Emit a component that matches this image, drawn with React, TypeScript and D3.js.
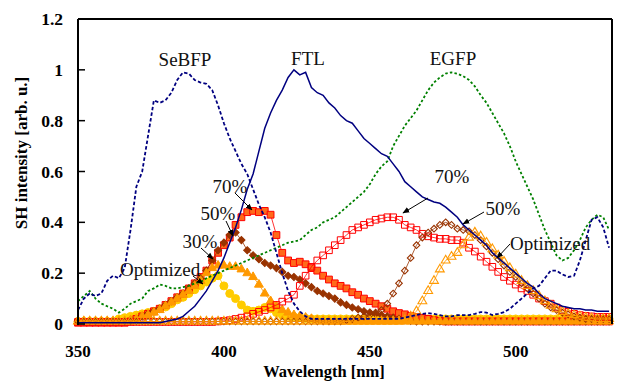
import React from "react";
import * as d3 from "d3";

// Wavelength grid (nm), 2 nm steps
const wavelengths: number[] = d3.range(350, 533, 2);

// Fluorescent-protein excitation spectra (lines)
const sebfp: number[] = [
  0.055, 0.1, 0.12, 0.11, 0.12, 0.17, 0.19, 0.18, 0.22, 0.37,
  0.54, 0.6, 0.74, 0.88, 0.87, 0.88, 0.91, 0.96, 0.99, 0.985,
  0.96, 0.95, 0.945, 0.92, 0.86, 0.79, 0.73, 0.68, 0.63, 0.59,
  0.53, 0.47, 0.42, 0.36, 0.28, 0.2, 0.13, 0.08, 0.05, 0.03,
  0.02, 0.02, 0.02, 0.02, 0.02, 0.02, 0.02, 0.02, 0.02, 0.02,
  0.02, 0.02, 0.02, 0.02, 0.02, 0.02, 0.025, 0.03, 0.035, 0.04,
  0.043, 0.04, 0.035, 0.03, 0.03, 0.035, 0.035, 0.035, 0.04, 0.047,
  0.045, 0.035, 0.04, 0.047, 0.06, 0.08, 0.1, 0.12, 0.14, 0.15,
  0.18, 0.21, 0.21, 0.195, 0.185, 0.19, 0.25, 0.33, 0.41, 0.42,
  0.38, 0.3,
];
const ftl: number[] = [
  0.005, 0.005, 0.005, 0.005, 0.005, 0.005, 0.005, 0.005, 0.005, 0.005,
  0.005, 0.005, 0.005, 0.005, 0.005, 0.01, 0.015, 0.02, 0.03, 0.05,
  0.07, 0.1, 0.13, 0.17, 0.21, 0.26, 0.32, 0.38, 0.45, 0.53,
  0.59, 0.68, 0.77, 0.83, 0.88, 0.92, 0.97, 1.0, 0.98, 0.99,
  0.93, 0.91, 0.9, 0.87, 0.85, 0.82, 0.8, 0.79, 0.76, 0.73,
  0.71, 0.69, 0.67, 0.66, 0.63, 0.6, 0.56, 0.54, 0.52, 0.5,
  0.49, 0.48, 0.475, 0.46, 0.44, 0.42, 0.39, 0.37, 0.35, 0.33,
  0.31, 0.28, 0.26, 0.24, 0.22, 0.2, 0.18, 0.16, 0.145, 0.12,
  0.1, 0.09, 0.08, 0.07, 0.065, 0.06, 0.06, 0.055, 0.055, 0.05,
  0.05, 0.05,
];
const egfp: number[] = [
  0.09, 0.11, 0.13, 0.1, 0.08, 0.07, 0.06, 0.045, 0.06, 0.08,
  0.09, 0.1, 0.13, 0.14, 0.155, 0.15, 0.14, 0.14, 0.145, 0.15,
  0.16, 0.165, 0.18, 0.19, 0.2, 0.21, 0.22, 0.23, 0.24, 0.25,
  0.26, 0.27, 0.28, 0.29, 0.3, 0.31, 0.32, 0.325, 0.33, 0.35,
  0.37, 0.38, 0.4, 0.41, 0.42, 0.44, 0.46, 0.48, 0.5, 0.52,
  0.55, 0.59, 0.62, 0.64, 0.7, 0.74, 0.78, 0.81, 0.84, 0.88,
  0.92, 0.95, 0.97, 0.985, 0.99, 0.985, 0.975, 0.96, 0.935, 0.9,
  0.87, 0.83, 0.79, 0.75, 0.7, 0.64, 0.59, 0.54, 0.49, 0.43,
  0.37, 0.32, 0.27, 0.25, 0.26, 0.29, 0.33, 0.38, 0.41, 0.43,
  0.42, 0.37,
];

// SH spectra, short-wavelength group
const sh70Blue: number[] = [
  0.005, 0.005, 0.005, 0.005, 0.005, 0.005, 0.005, 0.005, 0.005, 0.01,
  0.02, 0.03, 0.04, 0.05, 0.06, 0.075, 0.09, 0.105, 0.12, 0.14,
  0.16, 0.185, 0.21, 0.25, 0.28, 0.31, 0.34, 0.39, 0.42, 0.44,
  0.445, 0.44, 0.445, 0.43, 0.35, 0.28, 0.25, 0.24, 0.245, 0.235,
  0.22, 0.21, 0.19, 0.175, 0.16, 0.15, 0.14, 0.125, 0.115, 0.1,
  0.09, 0.08, 0.07, 0.06, 0.05, 0.043, 0.038, 0.032, 0.028, 0.024,
  0.02, 0.015, 0.012, 0.01, 0.01, 0.01, 0.01, 0.01, 0.01, 0.01,
  0.01, 0.01, 0.01, 0.01, 0.01, 0.01, 0.01, 0.01, 0.01, 0.01,
  0.01, 0.01, 0.01, 0.01, 0.01, 0.01, 0.01, 0.01, 0.01, 0.01,
  0.01, 0.01,
];
const sh50Blue: number[] = [
  0.01, 0.01, 0.01, 0.01, 0.01, 0.01, 0.01, 0.01, 0.01, 0.015,
  0.02, 0.03, 0.04, 0.05, 0.06, 0.075, 0.09, 0.105, 0.12, 0.14,
  0.16, 0.18, 0.21, 0.25, 0.29, 0.32, 0.35, 0.36, 0.33, 0.29,
  0.27, 0.255, 0.24, 0.23, 0.22, 0.205, 0.19, 0.185, 0.175, 0.16,
  0.145, 0.13, 0.12, 0.11, 0.1, 0.085, 0.075, 0.065, 0.058, 0.05,
  0.045, 0.04, 0.035, 0.03, 0.025, 0.02, 0.015, 0.012, 0.01, 0.01,
  0.01, 0.01, 0.01, 0.01, 0.01, 0.01, 0.01, 0.01, 0.01, 0.01,
  0.01, 0.01, 0.01, 0.01, 0.01, 0.01, 0.01, 0.01, 0.01, 0.01,
  0.01, 0.01, 0.01, 0.01, 0.01, 0.01, 0.01, 0.01, 0.01, 0.01,
  0.01, 0.01,
];
const sh30Blue: number[] = [
  0.01, 0.01, 0.01, 0.01, 0.01, 0.01, 0.01, 0.01, 0.01, 0.015,
  0.02, 0.03, 0.035, 0.045, 0.055, 0.07, 0.085, 0.1, 0.115, 0.13,
  0.15, 0.17, 0.2, 0.22, 0.23, 0.23, 0.225, 0.225, 0.215, 0.2,
  0.185, 0.155, 0.12, 0.09, 0.07, 0.055, 0.045, 0.035, 0.03, 0.025,
  0.02, 0.015, 0.012, 0.01, 0.01, 0.01, 0.01, 0.01, 0.01, 0.01,
  0.01, 0.01, 0.01, 0.01, 0.01, 0.01, 0.01, 0.01, 0.01, 0.01,
  0.01, 0.01, 0.01, 0.01, 0.01, 0.01, 0.01, 0.01, 0.01, 0.01,
  0.01, 0.01, 0.01, 0.01, 0.01, 0.01, 0.01, 0.01, 0.01, 0.01,
  0.01, 0.01, 0.01, 0.01, 0.01, 0.01, 0.01, 0.01, 0.01, 0.01,
  0.01, 0.01,
];
const shOptBlue: number[] = [
  0.01, 0.01, 0.01, 0.01, 0.01, 0.01, 0.01, 0.02, 0.025, 0.03,
  0.035, 0.04, 0.045, 0.05, 0.06, 0.067, 0.08, 0.095, 0.105, 0.12,
  0.135, 0.15, 0.165, 0.18, 0.19, 0.15, 0.12, 0.1, 0.075, 0.055,
  0.05, 0.055, 0.065, 0.06, 0.045, 0.035, 0.03, 0.028, 0.025, 0.022,
  0.02, 0.02, 0.02, 0.02, 0.02, 0.02, 0.02, 0.02, 0.02, 0.02,
  0.02, 0.02, 0.02, 0.02, 0.02, 0.02, 0.02, 0.02, 0.02, 0.02,
  0.02, 0.02, 0.02, 0.02, 0.02, 0.02, 0.02, 0.02, 0.02, 0.02,
  0.02, 0.02, 0.02, 0.02, 0.02, 0.02, 0.02, 0.02, 0.02, 0.02,
  0.02, 0.02, 0.02, 0.02, 0.02, 0.02, 0.02, 0.02, 0.02, 0.02,
  0.02, 0.02,
];

// SH spectra, long-wavelength group
const sh70Green: number[] = [
  0.008, 0.008, 0.008, 0.008, 0.008, 0.008, 0.008, 0.008, 0.008, 0.008,
  0.008, 0.008, 0.008, 0.008, 0.008, 0.008, 0.008, 0.008, 0.008, 0.008,
  0.008, 0.008, 0.008, 0.008, 0.01, 0.012, 0.015, 0.02, 0.025, 0.03,
  0.04, 0.048, 0.055, 0.065, 0.075, 0.088, 0.1, 0.115, 0.15, 0.19,
  0.225, 0.25, 0.27, 0.29, 0.31, 0.33, 0.35, 0.37, 0.38, 0.39,
  0.4, 0.41, 0.415, 0.42, 0.42, 0.41, 0.39, 0.38, 0.37, 0.355,
  0.345, 0.34, 0.335, 0.335, 0.33, 0.33, 0.32, 0.3, 0.285, 0.265,
  0.245, 0.225, 0.205, 0.185, 0.17, 0.155, 0.14, 0.13, 0.115, 0.1,
  0.09, 0.08, 0.065, 0.055, 0.048, 0.04, 0.035, 0.032, 0.03, 0.028,
  0.028, 0.028,
];
const sh50Green: number[] = [
  0.01, 0.01, 0.01, 0.01, 0.01, 0.01, 0.01, 0.01, 0.01, 0.01,
  0.01, 0.01, 0.01, 0.01, 0.01, 0.01, 0.01, 0.01, 0.01, 0.01,
  0.01, 0.01, 0.01, 0.01, 0.01, 0.01, 0.01, 0.01, 0.01, 0.01,
  0.01, 0.01, 0.01, 0.01, 0.01, 0.01, 0.01, 0.01, 0.01, 0.01,
  0.01, 0.01, 0.01, 0.01, 0.01, 0.01, 0.015, 0.02, 0.025, 0.03,
  0.035, 0.045, 0.055, 0.08, 0.12, 0.16, 0.21, 0.26, 0.31, 0.34,
  0.36, 0.375, 0.39, 0.4, 0.39, 0.375, 0.37, 0.365, 0.35, 0.33,
  0.305, 0.28, 0.255, 0.23, 0.205, 0.185, 0.16, 0.14, 0.12, 0.1,
  0.08, 0.065, 0.055, 0.045, 0.038, 0.03, 0.025, 0.02, 0.02, 0.02,
  0.02, 0.02,
];
const shOptGreen: number[] = [
  0.01, 0.01, 0.01, 0.01, 0.01, 0.01, 0.01, 0.01, 0.01, 0.01,
  0.01, 0.01, 0.01, 0.01, 0.01, 0.01, 0.01, 0.01, 0.01, 0.01,
  0.01, 0.01, 0.01, 0.01, 0.01, 0.01, 0.01, 0.01, 0.01, 0.01,
  0.01, 0.01, 0.01, 0.01, 0.01, 0.01, 0.01, 0.01, 0.01, 0.01,
  0.01, 0.01, 0.01, 0.01, 0.01, 0.01, 0.01, 0.01, 0.01, 0.01,
  0.01, 0.01, 0.01, 0.01, 0.01, 0.01, 0.015, 0.03, 0.05, 0.09,
  0.13, 0.17, 0.215, 0.25, 0.265, 0.28, 0.31, 0.34, 0.36, 0.345,
  0.32, 0.295, 0.27, 0.245, 0.22, 0.195, 0.17, 0.15, 0.13, 0.11,
  0.09, 0.072, 0.058, 0.048, 0.04, 0.035, 0.03, 0.025, 0.022, 0.02,
  0.02, 0.02,
];

const yTickValues: number[] = [0, 0.2, 0.4, 0.6, 0.8, 1, 1.2];
const yTickLabels: string[] = ["0", "0.2", "0.4", "0.6", "0.8", "1", "1.2"];
const xTickValues: number[] = [350, 400, 450, 500];
const xTickLabels: string[] = ["350", "400", "450", "500"];

const W = 622;
const H = 381;
const left = 78;
const right = 612;
const top = 19;
const bottom = 324;

const x = d3.scaleLinear().domain([350, 533]).range([left, right]);
const y = d3.scaleLinear().domain([0, 1.2]).range([bottom, top]);

type Pt = [number, number];
const pts = (vals: number[]): Pt[] => vals.map((v, i) => [wavelengths[i], v]);
const line = d3
  .line<Pt>()
  .x((d) => x(d[0]))
  .y((d) => y(d[1]));

const sq = d3.symbol().type(d3.symbolSquare);
const tri = d3.symbol().type(d3.symbolTriangle);
const circ = d3.symbol().type(d3.symbolCircle);

interface MarkerSeries {
  key: string;
  values: number[];
  path: string;
  rotate: number;
  fill: string;
  stroke: string;
  strokeWidth: number;
}

// drawn back to front
const markerSeries: MarkerSeries[] = [
  { key: "optb", values: shOptBlue, path: circ.size(50)()!, rotate: 0, fill: "#FFCC00", stroke: "#FFCC00", strokeWidth: 1 },
  { key: "70b", values: sh70Blue, path: sq.size(46)()!, rotate: 0, fill: "#FF6A1A", stroke: "#FF0000", strokeWidth: 1 },
  { key: "50b", values: sh50Blue, path: sq.size(26)()!, rotate: 45, fill: "#993300", stroke: "#993300", strokeWidth: 1 },
  { key: "30b", values: sh30Blue, path: tri.size(34)()!, rotate: 0, fill: "#FF9900", stroke: "#FF9900", strokeWidth: 1 },
  { key: "70g", values: sh70Green, path: sq.size(44)()!, rotate: 0, fill: "none", stroke: "#FF0000", strokeWidth: 1 },
  { key: "50g", values: sh50Green, path: sq.size(22)()!, rotate: 45, fill: "none", stroke: "#993300", strokeWidth: 1.1 },
  { key: "optg", values: shOptGreen, path: tri.size(34)()!, rotate: 0, fill: "none", stroke: "#FF9900", strokeWidth: 1.1 },
];

interface Label {
  text: string;
  tx: number;
  ty: number;
  anchor: "start" | "middle" | "end";
  ax1?: number;
  ay1?: number;
  ax2?: number;
  ay2?: number;
}

const curveLabels: Label[] = [
  { text: "SeBFP", tx: 185, ty: 66, anchor: "middle" },
  { text: "FTL", tx: 308, ty: 65, anchor: "middle" },
  { text: "EGFP", tx: 453, ty: 65, anchor: "middle" },
  { text: "70%", tx: 230, ty: 193, anchor: "middle", ax1: 235, ay1: 193, ax2: 252, ay2: 210 },
  { text: "50%", tx: 218, ty: 220, anchor: "middle", ax1: 226, ay1: 221, ax2: 233, ay2: 236 },
  { text: "30%", tx: 200, ty: 248, anchor: "middle", ax1: 201, ay1: 248, ax2: 213, ay2: 259 },
  { text: "Optimized", tx: 120, ty: 276, anchor: "start", ax1: 193, ay1: 276, ax2: 203, ay2: 284 },
  { text: "70%", tx: 452, ty: 183, anchor: "middle", ax1: 428, ay1: 198, ax2: 403, ay2: 213 },
  { text: "50%", tx: 503, ty: 215, anchor: "middle", ax1: 484, ay1: 212, ax2: 463, ay2: 224 },
  { text: "Optimized", tx: 510, ty: 250, anchor: "start", ax1: 510, ay1: 244, ax2: 497, ay2: 258 },
];

const serif = "'Liberation Serif', 'Times New Roman', serif";

export default function App() {
  return (
    <svg
      width={W}
      height={H}
      viewBox={`0 0 ${W} ${H}`}
      style={{ position: "absolute", left: 0, top: 0, background: "#fff" }}
      fontFamily={serif}
    >
      <defs>
        <marker id="arrowhead" viewBox="0 0 10 10" refX="9" refY="5" markerWidth="7" markerHeight="7" orient="auto" markerUnits="userSpaceOnUse">
          <path d="M0,1 L10,5 L0,9 Z" fill="#000" />
        </marker>
      </defs>
      <rect x={0} y={0} width={W} height={H} fill="#fff" />

      {/* SH marker series */}
      {markerSeries.map((s) => {
        const data = pts(s.values);
        return (
          <g key={s.key}>
            <path d={line(data)!} fill="none" stroke={s.stroke} strokeWidth={0.8} />
            {data.map((d, i) => (
              <path
                key={i}
                d={s.path}
                transform={`translate(${x(d[0])},${y(d[1])}) rotate(${s.rotate})`}
                fill={s.fill}
                stroke={s.stroke}
                strokeWidth={s.strokeWidth}
              />
            ))}
          </g>
        );
      })}

      {/* excitation spectra */}
      <path d={line(pts(egfp))!} fill="none" stroke="#008000" strokeWidth={1.8} strokeDasharray="2.5,2.2" />
      <path d={line(pts(sebfp))!} fill="none" stroke="#000080" strokeWidth={1.8} strokeDasharray="3.5,2.2" />
      <path d={line(pts(ftl))!} fill="none" stroke="#000080" strokeWidth={1.5} />

      {/* frame and axes */}
      <line x1={left} x2={right} y1={top} y2={top} stroke="#000" strokeWidth={2} />
      <line x1={right} x2={right} y1={top} y2={bottom} stroke="#000" strokeWidth={2} />
      <line x1={left} x2={left} y1={top} y2={bottom + 1} stroke="#000" strokeWidth={2} />
      {yTickValues.map((v, i) => (
        <g key={`yt${i}`}>
          <line x1={left} x2={left + 7} y1={y(v)} y2={y(v)} stroke="#000" strokeWidth={1.5} />
          <text x={63} y={y(v)} dy="0.35em" textAnchor="end" fontSize={17.5} fontWeight="bold">
            {yTickLabels[i]}
          </text>
        </g>
      ))}
      {xTickValues.map((v, i) => (
        <text key={`xt${i}`} x={x(v)} y={357} textAnchor="middle" fontSize={17} fontWeight="bold">
          {xTickLabels[i]}
        </text>
      ))}
      <text x={324} y={377} textAnchor="middle" fontSize={16.5} fontWeight="bold">
        Wavelength [nm]
      </text>
      <text transform="translate(27,153) rotate(-90)" textAnchor="middle" fontSize={17} fontWeight="bold">
        SH intensity [arb. u.]
      </text>

      {/* curve labels and arrows */}
      {curveLabels.map((l, i) => (
        <g key={`lb${i}`}>
          {l.ax1 !== undefined && (
            <line x1={l.ax1} y1={l.ay1} x2={l.ax2} y2={l.ay2} stroke="#000" strokeWidth={1} markerEnd="url(#arrowhead)" />
          )}
          <text x={l.tx} y={l.ty} textAnchor={l.anchor} fontSize={19} fill="#111">
            {l.text}
          </text>
        </g>
      ))}
    </svg>
  );
}
